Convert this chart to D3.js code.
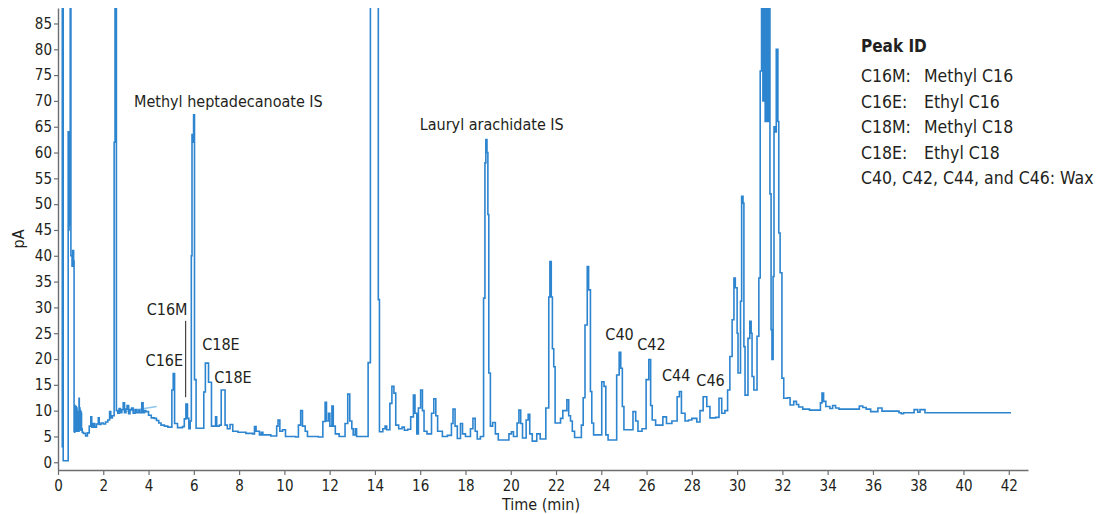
<!DOCTYPE html>
<html>
<head>
<meta charset="utf-8">
<script src="https://cdn.jsdelivr.net/npm/d3@7"></script>
<style>
  body { margin: 0; background: #fff; }
  svg { display: block; }
  text { font-family: "DejaVu Sans Condensed", "DejaVu Sans", sans-serif; fill: #231f20; }
</style>
</head>
<body>
<svg id="chart" width="1098" height="514"></svg>
<script>
// chromatogram, [time (min), signal (pA)]
const traceA = [
  [0.15, 3], [0.19, 92], [0.23, 0.3], [0.45, 64], [0.47, 45], [0.49, 63], [0.51, 46], [0.53, 62],
  [0.54, 92], [0.57, 40], [0.62, 38], [0.65, 41], [0.69, 39], [0.71, 6], [0.72, 10], [0.73, 5.8],
  [0.74, 11], [0.75, 6], [0.77, 9.5], [0.78, 6.2], [0.8, 10.8], [0.81, 6], [0.83, 10.5], [0.84, 6.5],
  [0.86, 9.8], [0.87, 6], [0.89, 9], [0.9, 6], [0.93, 12.4], [0.94, 7], [0.96, 10.5], [0.97, 6.3],
  [0.98, 10], [0.99, 6.5], [1.01, 9.8], [1.02, 6.2], [1.03, 9.5], [1.04, 6.5], [1.07, 5.8], [1.12, 5.6],
  [1.22, 5.1], [1.3, 5.7], [1.38, 7], [1.45, 8.8], [1.49, 6.8], [1.55, 7.5], [1.62, 6.8], [1.7, 7.4],
  [1.78, 8.6], [1.82, 7.3], [1.9, 7.6], [2.0, 7.4], [2.1, 7.8], [2.2, 8.2], [2.28, 9.8], [2.33, 8.6],
  [2.4, 9], [2.48, 62], [2.52, 92], [2.58, 10], [2.64, 9.5], [2.7, 10.4], [2.75, 9.6], [2.82, 10.2],
  [2.88, 11.5], [2.94, 9.6], [3.0, 10.3], [3.05, 11], [3.12, 9.4], [3.18, 10.2], [3.25, 10.5], [3.32, 9.5],
  [3.4, 10.2], [3.47, 9.6], [3.55, 10.1], [3.62, 9.6], [3.7, 11.5], [3.76, 9.6], [3.82, 10], [3.88, 9.8],
  [4.0, 9.1], [4.12, 8.6], [4.25, 8.5], [4.35, 8.1], [4.45, 7.6], [4.55, 7.2], [4.7, 7], [4.85, 6.8],
  [5.03, 14], [5.09, 17.2], [5.15, 7.5], [5.28, 6.7], [5.5, 6.9], [5.58, 8.4], [5.65, 11.3], [5.72, 8.5],
  [5.78, 6.5], [5.84, 8], [5.89, 40], [5.92, 63.5], [5.96, 62], [5.99, 67.3], [6.03, 16], [6.1, 6.6],
  [6.44, 13.6], [6.51, 19.2], [6.65, 15.5], [6.78, 7], [6.96, 8.8], [7.01, 7], [7.13, 7.2], [7.21, 14],
  [7.38, 7.2], [7.48, 6.5], [7.6, 7.3], [7.72, 6], [7.95, 5.8], [8.3, 5.6], [8.6, 5.5], [8.68, 6.9],
  [8.75, 6], [8.9, 5.3], [8.98, 5.8], [9.05, 5.3], [9.4, 5.1], [9.66, 7], [9.72, 8.2], [9.8, 6],
  [9.92, 6.3], [10.05, 5]
];
const traceB = [
  [10.5, 4.9], [10.62, 7.2], [10.72, 10], [10.8, 7], [10.92, 6], [11.02, 5], [11.5, 4.9], [11.7, 7.9],
  [11.8, 11.6], [11.86, 8], [11.95, 9.5], [12.01, 7], [12.1, 10.9], [12.16, 7], [12.25, 5.5], [12.42, 5],
  [12.68, 7.5], [12.8, 13.2], [12.89, 8], [12.98, 6.5], [13.04, 5.3], [13.13, 6.5], [13.19, 5], [13.7, 19.3],
  [13.8, 92], [14.15, 31.5], [14.2, 5.9], [14.35, 6.5], [14.45, 7], [14.52, 6.3], [14.66, 11.4], [14.75, 14.7],
  [14.84, 13.4], [14.92, 7.2], [15.05, 6.5], [15.2, 6.8], [15.3, 6.2], [15.45, 6.4], [15.58, 8.8], [15.7, 13],
  [15.77, 9.5], [15.85, 5.5], [15.92, 10.5], [16.02, 14], [16.1, 10], [16.17, 6], [16.3, 5.5], [16.5, 9.5],
  [16.6, 12.3], [16.69, 9], [16.77, 6], [16.98, 5], [17.2, 5.2], [17.38, 7.5], [17.45, 10.3], [17.54, 7],
  [17.64, 4.6], [17.78, 7.5], [17.87, 5.5], [18.0, 5], [18.22, 6.5], [18.33, 8.5], [18.43, 6], [18.52, 4.5],
  [18.66, 5], [18.8, 31.8], [18.86, 58], [18.9, 62.5], [18.95, 60], [18.99, 48], [19.03, 17.3], [19.1, 7],
  [19.2, 7.7], [19.32, 5.5], [19.45, 4.3], [19.92, 5.5]
];
const traceC = [
  [20.03, 5.9], [20.12, 5], [20.28, 7.6], [20.36, 10.1], [20.44, 7.5], [20.52, 4.7], [20.68, 8.2], [20.77, 9.3],
  [20.84, 5.5], [20.95, 4.1], [21.15, 5.5], [21.3, 4.5], [21.55, 10.5], [21.68, 32], [21.73, 38.9], [21.79, 32],
  [21.84, 22], [21.9, 18.5], [21.96, 7.6], [22.2, 8.5], [22.3, 10], [22.48, 12.1], [22.56, 9], [22.64, 8],
  [22.72, 6], [22.82, 4.8], [23.12, 7.2], [23.2, 12.5], [23.28, 26.6], [23.38, 37.9], [23.44, 33.4], [23.52, 13.7],
  [23.58, 7.6], [23.66, 5.3], [24.02, 15.6], [24.12, 14.7], [24.2, 5.3], [24.3, 4.3], [24.68, 16.9], [24.79, 21.3],
  [24.86, 18.2], [24.93, 10.8], [25.0, 6.3], [25.4, 9.8], [25.52, 8], [25.62, 6], [25.8, 6.5], [25.98, 16],
  [26.1, 19.9], [26.18, 11], [26.25, 8.2], [26.4, 7.2], [26.72, 8.8], [26.88, 7.5], [27.12, 8], [27.35, 12.7],
  [27.45, 13.7], [27.54, 9.5], [27.7, 8], [27.85, 8.2], [28.0, 8.5], [28.22, 7.8], [28.36, 10], [28.5, 12.7],
  [28.66, 10.8], [28.8, 8.6], [29.05, 8.7], [29.2, 12.4], [29.32, 9.5], [29.46, 10], [29.58, 14], [29.68, 20.5],
  [29.78, 27.6], [29.86, 35.7], [29.92, 33.8], [30.0, 25]
];
const traceD = [
  [30.04, 17.3], [30.15, 31.2], [30.2, 51.5], [30.26, 50.2], [30.3, 22.4], [30.35, 13], [30.48, 24], [30.56, 27.3],
  [30.62, 25], [30.66, 16.6], [30.74, 14], [30.88, 24.4], [30.96, 35.7], [31.02, 75.8], [31.08, 92], [31.14, 70],
  [31.18, 92], [31.24, 66], [31.28, 92], [31.34, 66], [31.4, 92], [31.45, 52], [31.5, 25.7], [31.54, 19.9],
  [31.59, 36], [31.63, 65], [31.7, 64], [31.73, 80], [31.8, 66], [31.84, 44.4], [31.9, 36.7], [31.98, 16.3],
  [32.06, 12.4], [32.22, 12.5], [32.34, 11.1], [32.5, 11.8], [32.62, 11.2], [32.72, 10.7], [32.9, 10.3], [33.2, 10.1],
  [33.55, 10.1], [33.68, 11.5], [33.75, 13.4], [33.82, 11.8], [33.92, 10.8], [34.1, 10.4], [34.22, 11], [34.35, 10.5],
  [34.5, 10.3], [35.3, 10.3], [35.4, 10.9], [35.55, 10.6], [35.7, 10.3], [35.9, 9.8], [36.22, 10.5], [36.4, 9.9],
  [37.15, 9.6], [37.25, 9.4], [37.35, 9.6], [37.82, 10.2], [37.98, 9.7], [38.08, 10.2], [38.3, 9.6], [42.1, 9.6]
];
// faint second trace segment near 3-4.4 min
const overlay = [[2.9, 9.8], [4.36, 10.8]];

const xTicks = d3.range(0, 43, 2);
const yTicks = d3.range(0, 90, 5);

// peak labels, anchored in data units
const peakLabels = [
  { text: "Methyl heptadecanoate IS", t: 3.36, v: 68.9 },
  { text: "Lauryl arachidate IS", t: 15.98, v: 64.4 },
  { text: "C16M", t: 3.92, v: 28.6 },
  { text: "C16E", t: 3.87, v: 18.7 },
  { text: "C18E", t: 6.37, v: 21.8 },
  { text: "C18E", t: 6.9, v: 15.4 },
  { text: "C40", t: 24.18, v: 23.7 },
  { text: "C42", t: 25.59, v: 21.8 },
  { text: "C44", t: 26.68, v: 15.8 },
  { text: "C46", t: 28.2, v: 14.7 }
];
const leaderLine = { t: 5.64, v0: 27.4, v1: 12.6 };

const legendTitle = "Peak ID";
const legendRows = [
  ["C16M:", "Methyl C16"],
  ["C16E:", "Ethyl C16"],
  ["C18M:", "Methyl C18"],
  ["C18E:", "Ethyl C18"],
  ["C40, C42, C44, and C46: Wax", ""]
];

const svg = d3.select("#chart");
const plotLeft = 58, plotRight = 1028, plotTop = 8, plotBottom = 470;

const x = d3.scaleLinear().domain([0, 42.85]).range([plotLeft, plotRight]);
const y = d3.scaleLinear().domain([-1.5, 88]).range([plotBottom, plotTop]);

svg.append("clipPath").attr("id", "plot")
  .append("rect").attr("x", plotLeft).attr("y", plotTop)
  .attr("width", plotRight - plotLeft).attr("height", plotBottom - plotTop);

const line = d3.line()
  .x(d => x(d[0]))
  .y(d => y(d[1]))
  .curve(d3.curveStepAfter);

const trace = traceA.concat(traceB, traceC, traceD);

svg.append("path")
  .datum(overlay)
  .attr("clip-path", "url(#plot)")
  .attr("fill", "none")
  .attr("stroke", "#8cc5ec")
  .attr("stroke-width", 1.6)
  .attr("d", d3.line().x(d => x(d[0])).y(d => y(d[1])));

svg.append("path")
  .datum(trace)
  .attr("clip-path", "url(#plot)")
  .attr("fill", "none")
  .attr("stroke", "#2d84cf")
  .attr("stroke-width", 1.6)
  .attr("stroke-linejoin", "miter")
  .attr("d", line);

// axes
const axisColor = "#6d6e71";
const yAxis = svg.append("g")
  .attr("transform", `translate(${plotLeft},0)`)
  .call(d3.axisLeft(y).tickValues(yTicks).tickSize(4).tickPadding(2).tickSizeOuter(0));
const xAxis = svg.append("g")
  .attr("transform", `translate(0,${plotBottom})`)
  .call(d3.axisBottom(x).tickValues(xTicks).tickSize(5).tickPadding(5).tickSizeOuter(0));

[yAxis, xAxis].forEach(g => {
  g.select(".domain").attr("stroke", axisColor).attr("stroke-width", 1.4);
  g.selectAll(".tick line").attr("stroke", axisColor).attr("stroke-width", 1.2);
  g.selectAll(".tick text")
    .style("font-family", '"DejaVu Sans Condensed", "DejaVu Sans", sans-serif')
    .style("font-size", "15px")
    .attr("fill", "#231f20");
});

svg.append("text")
  .attr("transform", "translate(24,239) rotate(-90)")
  .attr("text-anchor", "middle")
  .style("font-size", "16px")
  .text("pA");

svg.append("text")
  .attr("x", 541).attr("y", 510)
  .attr("text-anchor", "middle")
  .style("font-size", "16px")
  .text("Time (min)");

// peak annotations
svg.append("g").selectAll("text")
  .data(peakLabels)
  .enter()
  .append("text")
  .attr("x", d => x(d.t))
  .attr("y", d => y(d.v))
  .style("font-size", "16px")
  .text(d => d.text);

svg.append("line")
  .attr("x1", x(leaderLine.t)).attr("x2", x(leaderLine.t))
  .attr("y1", y(leaderLine.v0)).attr("y2", y(leaderLine.v1))
  .attr("stroke", "#231f20").attr("stroke-width", 1);

// legend
const legend = svg.append("g").attr("transform", "translate(861,52)");
legend.append("text")
  .style("font-size", "17px")
  .style("font-weight", "bold")
  .text(legendTitle);

const rows = legend.selectAll(".row")
  .data(legendRows)
  .enter()
  .append("text")
  .classed("row", true)
  .attr("y", (d, i) => 30 + i * 25.6)
  .style("font-size", "17.5px");
rows.append("tspan").attr("x", 0).text(d => d[0]);
rows.append("tspan").attr("x", 63).text(d => d[1]);
</script>
</body>
</html>
